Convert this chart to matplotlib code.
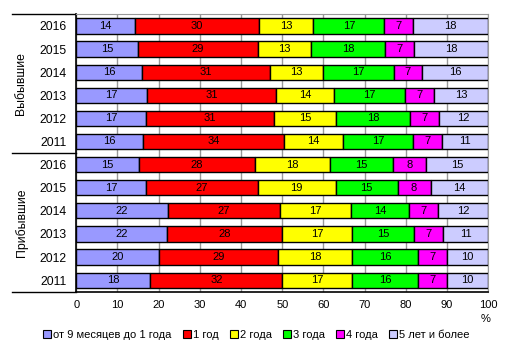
import numpy as np
import matplotlib.pyplot as plt
from matplotlib.patches import Patch
import matplotlib.transforms as mtransforms

plt.rcParams['font.family'] = ['Liberation Sans', 'DejaVu Sans']

# rows top to bottom
groups = ["Выбывшие", "Прибывшие"]
years = ["2016", "2015", "2014", "2013", "2012", "2011"]
series_names = ["от 9 месяцев до 1 года", "1 год", "2 года", "3 года", "4 года", "5 лет и более"]
colors = ["#9999FF", "#FF0000", "#FFFF00", "#00FF00", "#FF00FF", "#CCCCFF"]

# shares, % (each row: the six series)
left_data = [
    [14, 30, 13, 17, 7, 18],
    [15, 29, 13, 18, 7, 18],
    [16, 31, 13, 17, 7, 16],
    [17, 31, 14, 17, 7, 13],
    [17, 31, 15, 18, 7, 12],
    [16, 34, 14, 17, 7, 11],
]
arrived_data = [
    [15, 28, 18, 15, 8, 15],
    [17, 27, 19, 15, 8, 14],
    [22, 27, 17, 14, 7, 12],
    [22, 28, 17, 15, 7, 11],
    [20, 29, 18, 16, 7, 10],
    [18, 32, 17, 16, 7, 10],
]

vals = np.array(left_data + arrived_data, dtype=float)
pct = vals / vals.sum(axis=1, keepdims=True) * 100
n = len(vals)
y = np.arange(n)[::-1]  # first row on top

fig = plt.figure(figsize=(5.13, 3.59), dpi=100)
ax = fig.add_axes([0.1487, 0.1875, 0.8031, 0.7724])

left = np.zeros(n)
for j, name in enumerate(series_names):
    ax.barh(y, pct[:, j], left=left, height=0.66, color=colors[j],
            edgecolor="black", linewidth=1, label=name, zorder=3)
    for i in range(n):
        ax.text(left[i] + pct[i, j] / 2, y[i], f"{int(vals[i, j])}",
                ha="center", va="center", fontsize=8, zorder=4)
    left += pct[:, j]

ax.set_xlim(0, 100)
ax.set_ylim(-0.5, n - 0.5)
ax.set_xticks(range(0, 101, 10))
ax.set_yticks(y)
ax.set_yticklabels(years * 2, fontsize=8.8)
ax.tick_params(axis="x", length=0, pad=6, labelsize=8)
ax.tick_params(axis="y", length=0, pad=7)
ax.grid(axis="x", color="#999999", linewidth=1, zorder=0)
for s in ["top", "right"]:
    ax.spines[s].set_color("#999999")
for s in ["left", "bottom"]:
    ax.spines[s].set_color("black")
    ax.spines[s].set_linewidth(1.2)

# group separators and labels
tr = mtransforms.blended_transform_factory(ax.transAxes, ax.transData)
for yy in [n - 0.5, 5.5, -0.5]:
    ax.plot([-0.156, 0], [yy, yy], color="black", lw=1.0, transform=tr, clip_on=False)
ax.text(-0.133, 8.5, groups[0], rotation=90, ha="center", va="center", fontsize=8.8, transform=tr)
ax.text(-0.133, 2.5, groups[1], rotation=90, ha="center", va="center", fontsize=8.8, transform=tr)

fig.text(486 / 513, 1 - 319 / 359, "%", ha="center", va="center", fontsize=8)

handles = [Patch(facecolor=c, edgecolor="black", linewidth=0.8) for c in colors]
fig.legend(handles, series_names, loc="center", bbox_to_anchor=(0.5, 1 - 335 / 359),
           ncol=6, frameon=False, fontsize=8, handlelength=0.7, handleheight=0.7,
           handletextpad=0.2, columnspacing=1.0)

fig.savefig("out.png", dpi=100)
